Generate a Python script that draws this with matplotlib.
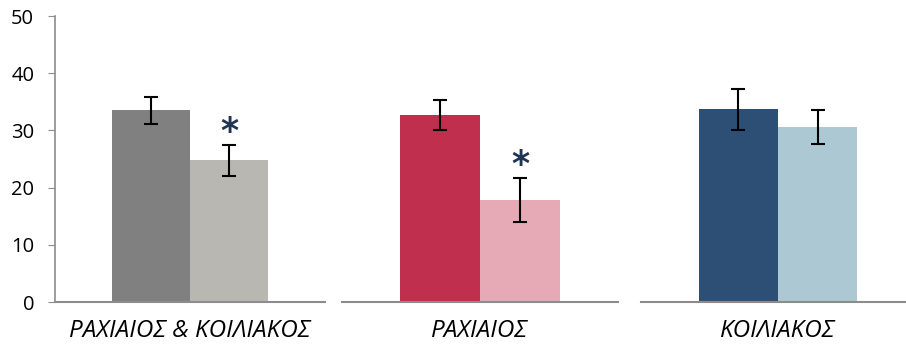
import numpy as np
import matplotlib.pyplot as plt

groups = ["ΡΑΧΙΑΙΟΣ & ΚΟΙΛΙΑΚΟΣ", "ΡΑΧΙΑΙΟΣ", "ΚΟΙΛΙΑΚΟΣ"]
first_vals = [33.5, 32.7, 33.7]
first_err = [2.4, 2.6, 3.6]
second_vals = [24.8, 17.8, 30.6]
second_err = [2.7, 3.9, 3.0]
significant = [True, True, False]
yticks = [0, 10, 20, 30, 40, 50]

dark_colors = ["#808080", "#c0304e", "#2e4f75"]
light_colors = ["#b8b7b2", "#e6aab7", "#abc8d3"]

W, H = 906, 345
fig = plt.figure(figsize=(W / 100, H / 100), dpi=100)

# three panels, each with its own piece of x axis
panels = [(55, 270, 0.5), (342, 276, 0.5), (641, 265, 0.467)]
bottom = (H - 302) / H
height = (302 - 16) / H
axis_gray = "#8c8c8c"
bw = 0.29

for i, (left, width, xr) in enumerate(panels):
    ax = fig.add_axes([left / W, bottom, width / W, height])
    ax.bar(-bw / 2, first_vals[i], bw, color=dark_colors[i], zorder=2)
    ax.bar(bw / 2, second_vals[i], bw, color=light_colors[i], zorder=2)
    ax.errorbar([-bw / 2, bw / 2], [first_vals[i], second_vals[i]],
                yerr=[first_err[i], second_err[i]], fmt="none",
                ecolor="black", elinewidth=1.5, capsize=5, capthick=1.5, zorder=3)
    if significant[i]:
        ax.text(bw / 2, second_vals[i] + second_err[i] + 0.5, "*",
                ha="center", va="baseline", fontsize=25, fontweight="bold",
                color="#1f3552")
    ax.set_xlim(-0.5, xr)
    ax.set_ylim(0, 50)
    ax.set_xticks([0])
    ax.set_xticklabels([groups[i]], fontsize=17.5, fontstyle="italic",
                       family="Open Sans")
    ax.tick_params(axis="x", length=0, pad=12)
    for s in ["top", "right"]:
        ax.spines[s].set_visible(False)
    ax.spines["bottom"].set_color(axis_gray)
    ax.spines["bottom"].set_linewidth(1.5)
    if i == 0:
        ax.set_yticks(yticks)
        ax.set_yticklabels([str(t) for t in yticks], fontsize=14.5, family="Open Sans")
        ax.spines["left"].set_color(axis_gray)
        ax.spines["left"].set_linewidth(1.2)
        ax.tick_params(axis="y", color=axis_gray, length=5, pad=10)
    else:
        ax.spines["left"].set_visible(False)
        ax.set_yticks([])

fig.savefig("out.png", dpi=100)
